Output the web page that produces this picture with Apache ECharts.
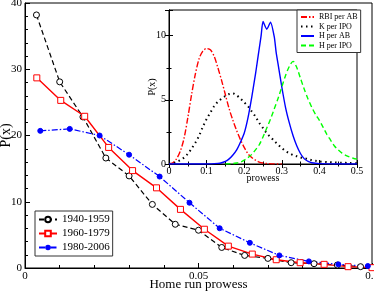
<!DOCTYPE html>
<html><head><meta charset="utf-8">
<script src="https://cdn.jsdelivr.net/npm/echarts@6/dist/echarts.min.js"></script>
<style>html,body{margin:0;padding:0;background:#fff}#c{width:374px;height:291px}</style>
</head><body><div id="c"></div>
<script>
// Main chart: P(x) vs Home run prowess
const x1940 = [0.0033,0.0100,0.0167,0.0233,0.0300,0.0367,0.0433,0.0500,0.0567,0.0633,0.0700,0.0767,0.0833,0.0900,0.0967];
const y1940 = [38.2,28.1,22.8,16.6,13.9,9.6,6.6,5.7,3.1,1.9,1.45,0.8,0.65,0.45,0.2];
const x1960 = [0.0034,0.0103,0.0172,0.0241,0.0310,0.0379,0.0448,0.0517,0.0586,0.0655,0.0724,0.0793,0.0862,0.0931,0.1000];
const y1960 = [28.7,25.3,22.9,18.2,14.7,12.1,8.85,5.85,3.3,2.1,1.25,0.8,0.55,0.2,0.05];
const x1980 = [0.0044,0.0129,0.0215,0.0300,0.0388,0.0474,0.0561,0.0648,0.0733,0.0818,0.0903,0.0988];
const y1980 = [20.7,21.0,20.0,17.1,13.8,9.85,6.0,3.8,1.9,1.0,0.55,0.3];
const mainXTicks = ['0','0.05','0.1'];
const mainYTicks = ['0','10','20','30','40'];

// Inset: P(x) vs prowess
const rbiX = [0,0.01,0.02,0.03,0.04,0.05,0.06,0.07,0.08,0.09,0.10,0.11,0.12,0.13,0.14,0.15,0.16,0.17,0.18,0.19,0.20,0.21,0.22,0.23,0.24,0.25,0.26,0.28,0.30];
const rbiY = [0,0.1,0.4,1.0,2.0,3.6,5.4,7.0,8.2,8.8,9.0,8.9,8.4,7.5,6.5,5.4,4.3,3.4,2.6,1.9,1.3,0.8,0.5,0.3,0.15,0.08,0.04,0.01,0];
const kX = [0,0.01,0.02,0.03,0.04,0.05,0.06,0.07,0.08,0.09,0.10,0.11,0.12,0.13,0.14,0.15,0.16,0.17,0.18,0.19,0.20,0.21,0.22,0.23,0.24,0.25,0.26,0.27,0.28,0.29,0.30,0.31,0.32,0.33,0.34,0.35,0.36,0.37,0.38,0.39,0.40,0.42,0.44,0.46,0.48,0.50];
const kY = [0,0.05,0.15,0.3,0.5,0.8,1.2,1.65,2.2,2.9,3.5,4.0,4.5,4.85,5.1,5.3,5.45,5.5,5.35,5.1,4.8,4.5,4.1,3.7,3.2,2.8,2.4,2.1,1.8,1.5,1.25,1.0,0.85,0.7,0.6,0.5,0.45,0.38,0.3,0.25,0.2,0.15,0.12,0.1,0.08,0.06];
const hAbX = [0,0.10,0.13,0.14,0.15,0.16,0.17,0.18,0.19,0.20,0.21,0.22,0.23,0.235,0.24,0.245,0.25,0.26,0.27,0.28,0.285,0.29,0.30,0.31,0.32,0.33,0.34,0.35,0.36,0.37,0.38,0.40,0.45,0.50];
const hAbY = [0,0,0.05,0.1,0.2,0.4,0.7,1.1,1.7,2.4,3.6,5.2,7.0,8.0,9.0,10.0,11.1,10.5,11.05,9.9,8.7,7.8,6.0,4.4,3.2,2.2,1.4,0.8,0.4,0.2,0.1,0.03,0,0];
const hIpoX = [0.15,0.17,0.18,0.19,0.20,0.21,0.22,0.23,0.24,0.25,0.26,0.27,0.28,0.29,0.30,0.31,0.32,0.33,0.34,0.35,0.36,0.37,0.38,0.39,0.40,0.41,0.42,0.43,0.44,0.45,0.46,0.47,0.48,0.49,0.50];
const hIpoY = [0,0.03,0.08,0.15,0.3,0.5,0.75,1.1,1.5,2.1,2.8,3.5,4.3,5.1,6.0,6.9,7.6,8.0,7.5,6.65,5.8,5.05,4.4,3.85,3.4,2.85,2.3,1.85,1.4,1.1,0.85,0.68,0.55,0.45,0.38];
const insetXTicks = ['0','0.1','0.2','0.3','0.4','0.5'];
const insetYTicks = ['0','5','10'];

const zip = (xs, ys) => xs.map((x, i) => [x, ys[i]]);
const F = 'Liberation Serif';

const chart = echarts.init(document.getElementById('c'), null, {renderer: 'canvas'});
const tickLbl = (list) => (v) => { const s = String(+v.toFixed(4)); return list.includes(s) ? s : ''; };

chart.setOption({
  animation: false,
  backgroundColor: '#fff',
  textStyle: {fontFamily: F},
  grid: [
    {left: 25, top: 3, right: 2, bottom: 23, outerBoundsMode: 'none', containLabel: false, show: true, borderColor: '#000', borderWidth: 1, backgroundColor: '#fff'},
    {left: 169, top: 10, width: 188, bottom: 127, outerBoundsMode: 'none', containLabel: false, show: true, borderColor: '#000', borderWidth: 1, backgroundColor: '#fff'}
  ],
  xAxis: [
    {gridIndex: 0, type: 'value', min: 0, max: 0.1, interval: 0.05,
     axisLine: {lineStyle: {color: '#000', width: 1}},
     axisTick: {inside: true, length: 5, lineStyle: {color: '#000'}},
     minorTick: {show: true, splitNumber: 5, length: 3, lineStyle: {color: '#000'}},
     splitLine: {show: false},
     axisLabel: {fontFamily: F, fontSize: 11, color: '#000', margin: 3, showMinLabel: true, showMaxLabel: true, hideOverlap: false, formatter: tickLbl(mainXTicks)},
     name: 'Home run prowess', nameLocation: 'middle', nameGap: 10, nameMoveOverlap: false,
     nameTextStyle: {fontFamily: F, fontSize: 13, color: '#000'}},
    {gridIndex: 1, type: 'value', min: 0, max: 0.5, interval: 0.1,
     axisLine: {lineStyle: {color: '#000', width: 1}},
     axisTick: {inside: true, length: 4, lineStyle: {color: '#000'}},
     minorTick: {show: true, splitNumber: 2, length: 2.5, lineStyle: {color: '#000'}},
     splitLine: {show: false},
     axisLabel: {fontFamily: F, fontSize: 10, color: '#000', margin: 2, showMinLabel: true, showMaxLabel: true, hideOverlap: false, formatter: tickLbl(insetXTicks)},
     name: 'prowess', nameLocation: 'middle', nameGap: 9, nameMoveOverlap: false,
     nameTextStyle: {fontFamily: F, fontSize: 10, color: '#000'}},
    {gridIndex: 1, type: 'value', position: 'top', min: 0, max: 0.5, interval: 0.1,
     axisLine: {lineStyle: {color: '#000', width: 1}},
     axisTick: {inside: true, length: 4, lineStyle: {color: '#000'}},
     minorTick: {show: true, splitNumber: 2, length: 2.5, lineStyle: {color: '#000'}},
     splitLine: {show: false}, axisLabel: {show: false}}
  ],
  yAxis: [
    {gridIndex: 0, type: 'value', min: 0, max: 40, interval: 10,
     axisLine: {show: true, lineStyle: {color: '#000', width: 1}},
     axisTick: {show: true, inside: true, length: 5, lineStyle: {color: '#000'}},
     minorTick: {show: true, splitNumber: 5, length: 3, lineStyle: {color: '#000'}},
     splitLine: {show: false},
     axisLabel: {fontFamily: F, fontSize: 11, color: '#000', margin: 3, showMinLabel: true, showMaxLabel: true, hideOverlap: false, formatter: tickLbl(mainYTicks)},
     name: 'P(x)', nameLocation: 'middle', nameGap: 12, nameMoveOverlap: false,
     nameTextStyle: {fontFamily: F, fontSize: 14, color: '#000'}},
    {gridIndex: 1, type: 'value', min: 0, max: 12, interval: 5,
     axisLine: {show: true, lineStyle: {color: '#000', width: 1}},
     axisTick: {show: true, inside: true, length: 4, lineStyle: {color: '#000'}},
     minorTick: {show: true, splitNumber: 2, length: 2.5, lineStyle: {color: '#000'}},
     splitLine: {show: false},
     axisLabel: {fontFamily: F, fontSize: 10, color: '#000', margin: 3, showMinLabel: true, showMaxLabel: false, formatter: tickLbl(insetYTicks)},
     name: 'P(x)', nameLocation: 'middle', nameGap: 12, nameMoveOverlap: false,
     nameTextStyle: {fontFamily: F, fontSize: 10, color: '#000'}},
    {gridIndex: 1, type: 'value', position: 'right', min: 0, max: 12, interval: 5,
     axisLine: {show: true, lineStyle: {color: '#000', width: 1}},
     axisTick: {show: true, inside: true, length: 4, lineStyle: {color: '#000'}},
     minorTick: {show: true, splitNumber: 2, length: 2.5, lineStyle: {color: '#000'}},
     splitLine: {show: false}, axisLabel: {show: false}}
  ],
  legend: [
    {left: 35, top: 211, orient: 'vertical', itemWidth: 18, itemHeight: 7, itemGap: 3,
     padding: [3, 3, 3, 3], borderColor: '#333', borderWidth: 1, backgroundColor: '#fff',
     textStyle: {fontFamily: F, fontSize: 11, color: '#000', lineHeight: 10},
     data: ['1940-1959', '1960-1979', '1980-2006']},
    {left: 297, top: 10, orient: 'vertical', itemWidth: 13, itemHeight: 8, itemGap: 1.5,
     padding: [3, 3, 3, 3], borderColor: '#333', borderWidth: 1, backgroundColor: '#fff',
     itemStyle: {color: 'transparent', borderColor: 'transparent', borderWidth: 0, opacity: 0},
     textStyle: {fontFamily: F, fontSize: 8, color: '#000', lineHeight: 8},
     data: ['RBI per AB', 'K per IPO', 'H per AB', 'H per IPO']}
  ],
  series: [
    {name: '1940-1959', type: 'line', xAxisIndex: 0, yAxisIndex: 0, data: zip(x1940, y1940),
     symbol: 'circle', symbolSize: 6, color: '#000',
     itemStyle: {color: '#fff', borderColor: '#000', borderWidth: 1},
     lineStyle: {color: '#000', width: 1.2, type: [5, 3]}},
    {name: '1960-1979', type: 'line', xAxisIndex: 0, yAxisIndex: 0, data: zip(x1960, y1960),
     symbol: 'rect', symbolSize: 6, color: '#f00',
     itemStyle: {color: '#fff', borderColor: '#f00', borderWidth: 1},
     lineStyle: {color: '#f00', width: 1.4, type: 'solid'}},
    {name: '1980-2006', type: 'line', xAxisIndex: 0, yAxisIndex: 0, data: zip(x1980, y1980),
     symbol: 'circle', symbolSize: 5, color: '#00f',
     itemStyle: {color: '#00f', borderColor: '#00f'},
     lineStyle: {color: '#00f', width: 1.2, type: [6, 2, 1.5, 2]}},
    {name: 'RBI per AB', type: 'line', xAxisIndex: 1, yAxisIndex: 1, data: zip(rbiX, rbiY),
     symbol: 'none', smooth: 0.3, color: '#f00', lineStyle: {color: '#f00', width: 1.4, type: [6, 2, 1.5, 2]}},
    {name: 'K per IPO', type: 'line', xAxisIndex: 1, yAxisIndex: 1, data: zip(kX, kY),
     symbol: 'none', smooth: 0.3, color: '#000', lineStyle: {color: '#000', width: 2, type: [1.5, 3.5], cap: 'butt'}},
    {name: 'H per AB', type: 'line', xAxisIndex: 1, yAxisIndex: 1, data: zip(hAbX, hAbY),
     symbol: 'none', smooth: 0.2, color: '#00f', lineStyle: {color: '#00f', width: 1.4, type: 'solid'}},
    {name: 'H per IPO', type: 'line', xAxisIndex: 1, yAxisIndex: 1, data: zip(hIpoX, hIpoY),
     symbol: 'none', smooth: 0.3, color: '#0f0', lineStyle: {color: '#0f0', width: 1.4, type: [5, 3]}}
  ]
});
</script></body></html>
